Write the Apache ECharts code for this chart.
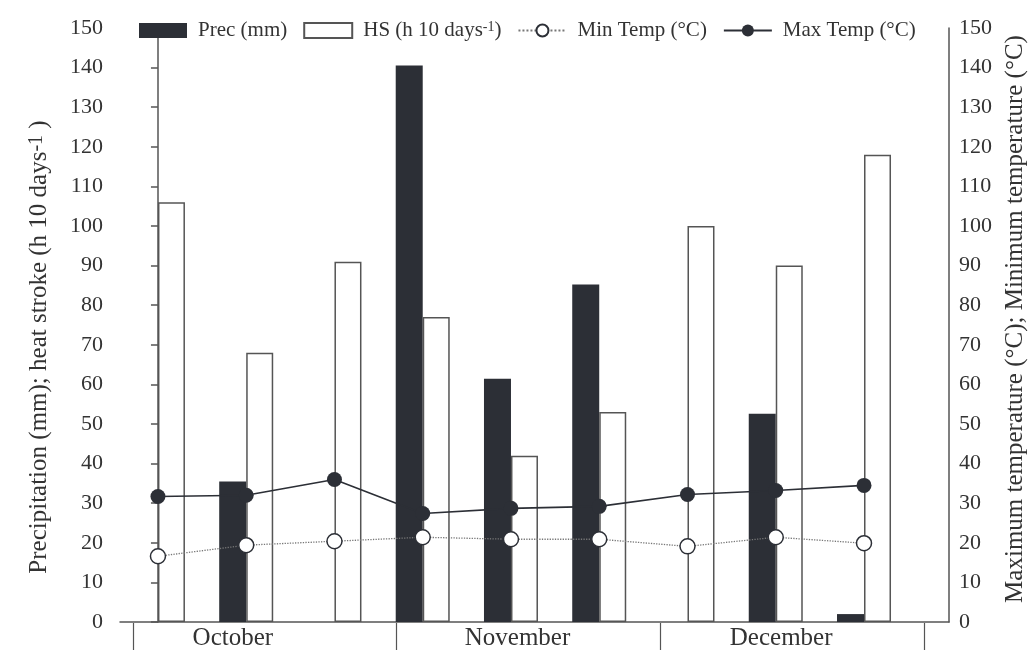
<!DOCTYPE html>
<html>
<head>
<meta charset="utf-8">
<script src="https://cdn.jsdelivr.net/npm/echarts@6/dist/echarts.min.js"></script>
<style>
html, body { margin: 0; padding: 0; background: #fff; }
#chart { width: 1029px; height: 650px; }
</style>
</head>
<body>
<div id="chart"></div>
<script>
// three 10-day periods per month
var months = ['October', 'November', 'December'];
var dekads = [0, 1, 2, 3, 4, 5, 6, 7, 8];
var prec = [0, 35.5, 0, 140.5, 61.4, 85.2, 0, 52.6, 2];
var hs = [106, 68, 91, 77, 42, 53, 100, 90, 118];
var minTemp = [16.6, 19.4, 20.4, 21.4, 20.9, 20.9, 19.1, 21.4, 19.9];
var maxTemp = [31.7, 32, 36, 27.4, 28.7, 29.2, 32.2, 33.2, 34.5];
var yTicks = [0, 150, 10];

var font = 'Liberation Serif';
var dark = '#2c2f36';
var axisColor = '#555';
var textColor = '#333';

function pairs(values) {
  return dekads.map(function (d, i) { return [d, values[i]]; });
}

var chart = echarts.init(document.getElementById('chart'));

var option = {
  backgroundColor: '#fff',
  animation: false,
  textStyle: { fontFamily: font },
  legend: {
    left: 134,
    top: 15,
    itemWidth: 48,
    itemHeight: 15,
    itemGap: 16,
    textStyle: {
      fontFamily: font,
      fontSize: 21,
      color: textColor,
      padding: [0, 0, 0, 6],
      rich: { sup: { fontFamily: font, fontSize: 14, verticalAlign: 'top', lineHeight: 20, color: textColor } }
    },
    formatter: function (name) {
      return name === 'HS' ? 'HS (h 10 days{sup|-1})' : name;
    },
    data: [
      { name: 'Prec (mm)', icon: 'rect' },
      { name: 'HS', icon: 'rect' },
      { name: 'Min Temp (°C)' },
      { name: 'Max Temp (°C)' }
    ]
  },
  grid: [
    { left: 120, right: 80, top: 28, bottom: 28, outerBoundsMode: 'none' },
    { left: 133, right: 105, top: 622, bottom: 27, outerBoundsMode: 'none' }
  ],
  xAxis: [
    {
      type: 'value',
      gridIndex: 0,
      min: -0.43,
      max: 8.963,
      axisLine: { show: true, onZero: false, lineStyle: { color: axisColor, width: 1.5 } },
      axisTick: { show: false },
      axisLabel: { show: false },
      splitLine: { show: false }
    },
    {
      type: 'category',
      gridIndex: 1,
      data: months,
      axisLine: { show: false },
      axisTick: { show: true, length: 28, lineStyle: { color: axisColor, width: 1.2 } },
      axisLabel: {
        margin: 3,
        fontFamily: font,
        fontSize: 25,
        color: textColor,
        formatter: function (v, i) {
          return (i === 0 ? '{a|' : '{b|') + v + '}';
        },
        rich: {
          a: { fontFamily: font, fontSize: 25, color: textColor, padding: [0, 64, 0, 0] },
          b: { fontFamily: font, fontSize: 25, color: textColor, padding: [0, 22, 0, 0] }
        }
      }
    }
  ],
  yAxis: [
    {
      type: 'value',
      gridIndex: 0,
      min: yTicks[0],
      max: yTicks[1],
      interval: yTicks[2],
      name: 'Precipitation (mm); heat stroke (h 10 days{sup|-1} )',
      nameLocation: 'middle',
      nameGap: 68,
      nameTextStyle: {
        fontFamily: font,
        fontSize: 25,
        color: textColor,
        padding: [0, 44, 0, 0],
        rich: { sup: { fontFamily: font, fontSize: 20, verticalAlign: 'top', lineHeight: 25, color: textColor } }
      },
      axisLine: { show: true, lineStyle: { color: axisColor, width: 1.5 } },
      axisTick: { show: true, length: 7, lineStyle: { color: axisColor, width: 1.5 } },
      axisLabel: { margin: 17, fontFamily: font, fontSize: 22, color: textColor },
      splitLine: { show: false }
    },
    {
      type: 'value',
      gridIndex: 0,
      position: 'right',
      min: yTicks[0],
      max: yTicks[1],
      interval: yTicks[2],
      name: 'Maximum temperature (°C); Minimum temperature (°C)',
      nameLocation: 'middle',
      nameGap: 53,
      nameTextStyle: { fontFamily: font, fontSize: 25, color: textColor, padding: [0, 0, 0, 12] },
      axisLine: { show: true, lineStyle: { color: axisColor, width: 1.5 } },
      axisTick: { show: false },
      axisLabel: { margin: 10, fontFamily: font, fontSize: 22, color: textColor },
      splitLine: { show: false }
    },
    {
      type: 'value',
      gridIndex: 1,
      show: false
    }
  ],
  series: [
    {
      name: 'Prec (mm)',
      type: 'bar',
      xAxisIndex: 0,
      yAxisIndex: 0,
      barWidth: 27,
      barGap: '0%',
      itemStyle: { color: dark },
      data: pairs(prec)
    },
    {
      name: 'HS',
      type: 'bar',
      xAxisIndex: 0,
      yAxisIndex: 0,
      barWidth: 27,
      barGap: '0%',
      itemStyle: { color: '#fff', borderColor: '#555', borderWidth: 1.5 },
      data: pairs(hs)
    },
    {
      name: 'Min Temp (°C)',
      type: 'line',
      xAxisIndex: 0,
      yAxisIndex: 1,
      z: 5,
      symbol: 'circle',
      symbolSize: 15,
      lineStyle: { color: '#777', width: 1.3, type: 'dotted' },
      itemStyle: { color: '#fff', borderColor: dark, borderWidth: 1.5 },
      data: pairs(minTemp)
    },
    {
      name: 'Max Temp (°C)',
      type: 'line',
      xAxisIndex: 0,
      yAxisIndex: 1,
      z: 6,
      symbol: 'circle',
      symbolSize: 15,
      lineStyle: { color: dark, width: 1.6 },
      itemStyle: { color: dark },
      data: pairs(maxTemp)
    }
  ]
};

option && chart.setOption(option);
window.addEventListener('resize', function () {
  chart.resize();
});
</script>
</body>
</html>
